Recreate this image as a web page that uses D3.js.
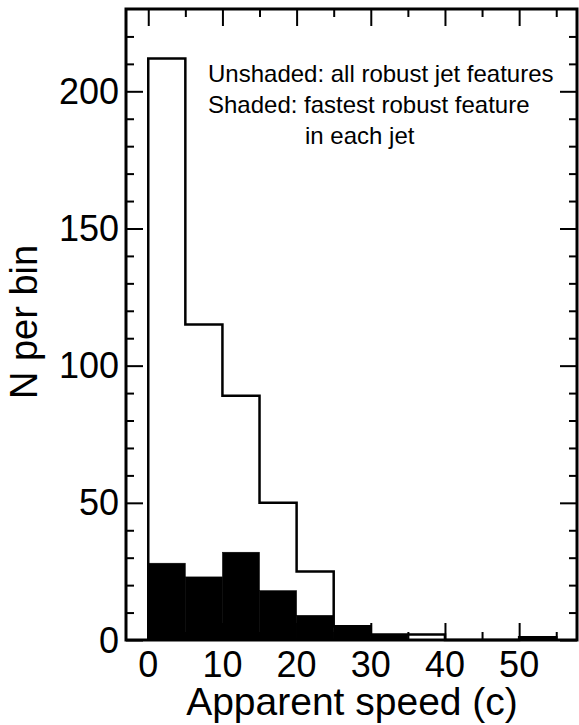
<!DOCTYPE html>
<html>
<head>
<meta charset="utf-8">
<script src="https://cdn.jsdelivr.net/npm/d3@7"></script>
<style>
  body { margin: 0; background: #fff; }
  text { font-family: "Liberation Sans", Arial, Helvetica, sans-serif; fill: #000; }
</style>
</head>
<body>
<script>
//Width and height
var w = 579;
var h = 725;

// bin edges (apparent speed, c)
var binStarts = [0, 5, 10, 15, 20, 25, 30, 35, 40, 45, 50];
var binWidth = 5;
// unshaded: all robust jet features
var allFeatures = [212, 115, 89, 50, 25, 5, 2, 2, 0, 0, 1];
// shaded: fastest robust feature in each jet
var fastest = [28, 23, 32, 18, 9, 5, 2, 0, 0, 0, 1];

var xTicks = [0, 10, 20, 30, 40, 50];
var xMinor = [5, 15, 25, 35, 45, 55];
var yTicks = [0, 50, 100, 150, 200];
var yMinor = [10, 20, 30, 40, 60, 70, 80, 90, 110, 120, 130, 140, 160, 170, 180, 190, 210, 220];

var noteLines = ["Unshaded: all robust jet features", "Shaded: fastest robust feature", "in each jet"];

// plot frame (note: "top" is reserved on window, so use other names)
var fx0 = 126, fx1 = 577, fy0 = 9, fy1 = 640;
var majorLen = 17, minorLen = 8;

var xScale = d3.scaleLinear().domain([-3, 57.8]).range([fx0, fx1]);
var yScale = d3.scaleLinear().domain([0, 230]).range([fy1, fy0]);

var svg = d3.select("body").append("svg").attr("width", w).attr("height", h);

// shaded bars
svg
  .append("g")
  .selectAll("rect")
  .data(fastest)
  .enter()
  .append("rect")
  .attr("x", function (d, i) { return xScale(binStarts[i]); })
  .attr("width", function (d, i) { return xScale(binStarts[i] + binWidth) - xScale(binStarts[i]); })
  .attr("y", function (d) { return yScale(d); })
  .attr("height", function (d) { return yScale(0) - yScale(d); })
  .attr("fill", "#000")
  .attr("stroke", "#000")
  .attr("stroke-width", 0.5);

// unshaded outline as a step line
var pts = [[binStarts[0], 0]];
allFeatures.forEach(function (d, i) { pts.push([binStarts[i], d]); });
pts.push([binStarts[binStarts.length - 1] + binWidth, 0]);

var step = d3
  .line()
  .x(function (d) { return xScale(d[0]); })
  .y(function (d) { return yScale(d[1]); })
  .curve(d3.curveStepAfter);

svg
  .append("path")
  .datum(pts)
  .attr("d", step)
  .attr("fill", "none")
  .attr("stroke", "#000")
  .attr("stroke-width", 2.5)
  .attr("stroke-linejoin", "miter");

// axes, ticks pointing inward
function addAxis(axis, tx, ty, vals, len) {
  var g = svg
    .append("g")
    .attr("transform", "translate(" + tx + "," + ty + ")")
    .call(axis.tickValues(vals).tickSize(len).tickFormat(""));
  g.select(".domain").remove();
  g.selectAll("line").attr("stroke", "#000").attr("stroke-width", 2);
  return g;
}

addAxis(d3.axisTop(xScale), 0, fy1, xTicks, majorLen);
addAxis(d3.axisTop(xScale), 0, fy1, xMinor, minorLen);
addAxis(d3.axisBottom(xScale), 0, fy0, xTicks, majorLen);
addAxis(d3.axisBottom(xScale), 0, fy0, xMinor, minorLen);
addAxis(d3.axisRight(yScale), fx0, 0, yTicks, majorLen);
addAxis(d3.axisRight(yScale), fx0, 0, yMinor, minorLen);
addAxis(d3.axisLeft(yScale), fx1, 0, yTicks, majorLen);
addAxis(d3.axisLeft(yScale), fx1, 0, yMinor, minorLen);

// frame
svg
  .append("rect")
  .attr("x", fx0)
  .attr("y", fy0)
  .attr("width", fx1 - fx0)
  .attr("height", fy1 - fy0)
  .attr("fill", "none")
  .attr("stroke", "#000")
  .attr("stroke-width", 3);

// tick labels
svg
  .append("g")
  .selectAll("text")
  .data(xTicks)
  .enter()
  .append("text")
  .attr("x", function (d) { return xScale(d); })
  .attr("y", 677)
  .attr("text-anchor", "middle")
  .style("font-size", "36px")
  .text(function (d) { return d; });

svg
  .append("g")
  .selectAll("text")
  .data(yTicks)
  .enter()
  .append("text")
  .attr("x", fx0 - 7)
  .attr("y", function (d) { return yScale(d); })
  .attr("dy", "0.35em")
  .attr("text-anchor", "end")
  .style("font-size", "36px")
  .text(function (d) { return d; });

// axis titles
svg
  .append("text")
  .attr("x", 352)
  .attr("y", 715)
  .attr("text-anchor", "middle")
  .style("font-size", "39px")
  .text("Apparent speed (c)");

svg
  .append("text")
  .attr("transform", "translate(37,322) rotate(-90)")
  .attr("text-anchor", "middle")
  .style("font-size", "38px")
  .text("N per bin");

// note
svg
  .append("g")
  .selectAll("text")
  .data(noteLines)
  .enter()
  .append("text")
  .attr("x", function (d, i) { return i == 2 ? 305 : 208; })
  .attr("y", function (d, i) { return 82 + i * 31; })
  .style("font-size", "24px")
  .text(function (d) { return d; });
</script>
</body>
</html>
